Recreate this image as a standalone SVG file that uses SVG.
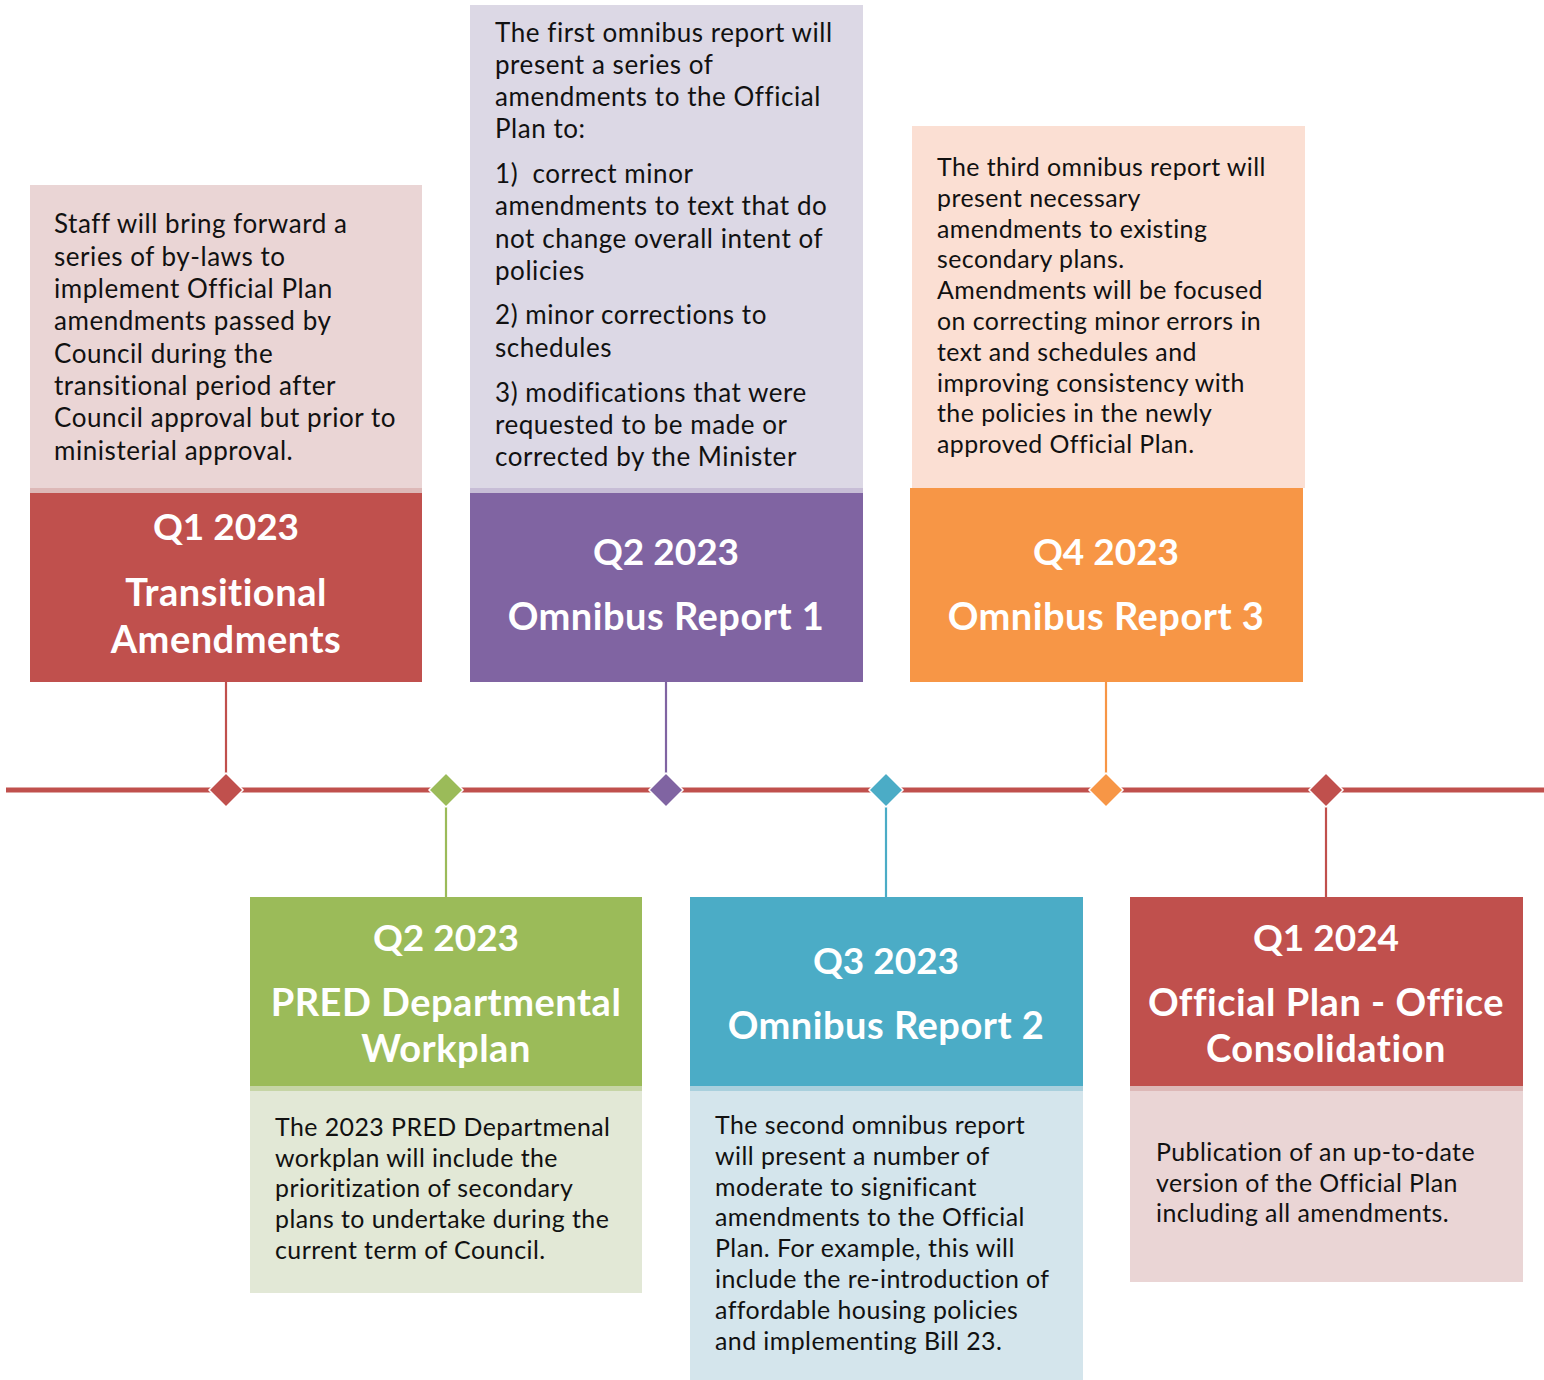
<svg xmlns="http://www.w3.org/2000/svg" width="1544" height="1380" viewBox="0 0 1544 1380">
<style>
.title{font-family:Lato,"Open Sans","Liberation Sans",sans-serif;font-weight:700;font-size:38px;letter-spacing:0.5px;fill:#FFFFFF;text-anchor:middle}
.q{font-size:37px;letter-spacing:0px}
.body{font-family:Lato,"Open Sans","Liberation Sans",sans-serif;font-weight:400;font-size:26px;letter-spacing:0.55px;fill:#111111}
.sm{font-size:24.9px;letter-spacing:0.45px}
.conn{stroke-width:2.2;fill:none}
.dia{stroke:#FFFFFF;stroke-width:1.5}
</style>
<rect x="0" y="0" width="1544" height="1380" fill="#FFFFFF"/>
<g id="connectors">
<line x1="6" y1="790" x2="1544" y2="790" stroke="#C0504D" stroke-width="5"/>
<line class="conn" x1="226" y1="682" x2="226" y2="774" stroke="#C0504D"/>
<line class="conn" x1="446" y1="806" x2="446" y2="897" stroke="#9BBB59"/>
<line class="conn" x1="666" y1="682" x2="666" y2="774" stroke="#8064A2"/>
<line class="conn" x1="886" y1="806" x2="886" y2="897" stroke="#4BACC6"/>
<line class="conn" x1="1106" y1="682" x2="1106" y2="774" stroke="#F79646"/>
<line class="conn" x1="1326" y1="806" x2="1326" y2="897" stroke="#C0504D"/>
<polygon class="dia" points="226,773 243,790 226,807 209,790" fill="#C0504D"/>
<polygon class="dia" points="446,773 463,790 446,807 429,790" fill="#9BBB59"/>
<polygon class="dia" points="666,773 683,790 666,807 649,790" fill="#8064A2"/>
<polygon class="dia" points="886,773 903,790 886,807 869,790" fill="#4BACC6"/>
<polygon class="dia" points="1106,773 1123,790 1106,807 1089,790" fill="#F79646"/>
<polygon class="dia" points="1326,773 1343,790 1326,807 1309,790" fill="#C0504D"/>
</g>
<g id="node-q1-2023">
<rect x="30" y="185" width="392" height="304" fill="#EAD5D5"/>
<rect x="30" y="488" width="392" height="5" fill="#DDB8B7"/>
<rect x="30" y="493" width="392" height="189" fill="#C0504D"/>
<text class="title q" x="226" y="540">Q1 2023</text>
<text class="title" x="226" y="606">Transitional</text>
<text class="title" x="226" y="653">Amendments</text>
<text class="body" x="54" y="233">Staff will bring forward a</text>
<text class="body" x="54" y="265.5">series of by-laws to</text>
<text class="body" x="54" y="298">implement Official Plan</text>
<text class="body" x="54" y="330">amendments passed by</text>
<text class="body" x="54" y="362.5">Council during the</text>
<text class="body" x="54" y="395">transitional period after</text>
<text class="body" x="54" y="427">Council approval but prior to</text>
<text class="body" x="54" y="459.5">ministerial approval.</text>
</g>
<g id="node-q2-2023-omnibus1">
<rect x="470" y="5" width="393" height="484" fill="#DCD8E5"/>
<rect x="470" y="488" width="393" height="5" fill="#C7BDD6"/>
<rect x="470" y="493" width="393" height="189" fill="#8064A2"/>
<text class="title q" x="666" y="565">Q2 2023</text>
<text class="title" x="666" y="630">Omnibus Report 1</text>
<text class="body" x="495" y="42">The first omnibus report will</text>
<text class="body" x="495" y="74">present a series of</text>
<text class="body" x="495" y="106">amendments to the Official</text>
<text class="body" x="495" y="138">Plan to:</text>
<text class="body" x="495" y="183" xml:space="preserve">1)  correct minor</text>
<text class="body" x="495" y="215">amendments to text that do</text>
<text class="body" x="495" y="248">not change overall intent of</text>
<text class="body" x="495" y="280">policies</text>
<text class="body" x="495" y="324">2) minor corrections to</text>
<text class="body" x="495" y="357">schedules</text>
<text class="body" x="495" y="402">3) modifications that were</text>
<text class="body" x="495" y="434">requested to be made or</text>
<text class="body" x="495" y="466">corrected by the Minister</text>
</g>
<g id="node-q4-2023-omnibus3">
<rect x="912" y="126" width="393" height="362" fill="#FBDFD3"/>
<rect x="910" y="488" width="393" height="194" fill="#F79646"/>
<text class="title q" x="1106" y="565">Q4 2023</text>
<text class="title" x="1106" y="630">Omnibus Report 3</text>
<text class="body sm" x="937" y="176">The third omnibus report will</text>
<text class="body sm" x="937" y="207">present necessary</text>
<text class="body sm" x="937" y="238">amendments to existing</text>
<text class="body sm" x="937" y="268">secondary plans.</text>
<text class="body sm" x="937" y="299">Amendments will be focused</text>
<text class="body sm" x="937" y="330">on correcting minor errors in</text>
<text class="body sm" x="937" y="361">text and schedules and</text>
<text class="body sm" x="937" y="392">improving consistency with</text>
<text class="body sm" x="937" y="422">the policies in the newly</text>
<text class="body sm" x="937" y="453">approved Official Plan.</text>
</g>
<g id="node-q2-2023-pred">
<rect x="250" y="897" width="392" height="189" fill="#9BBB59"/>
<rect x="250" y="1086" width="392" height="5" fill="#C6D5A6"/>
<rect x="250" y="1091" width="392" height="202" fill="#E2E8D6"/>
<text class="title q" x="446" y="951">Q2 2023</text>
<text class="title" x="446" y="1016">PRED Departmental</text>
<text class="title" x="446" y="1062">Workplan</text>
<text class="body sm" x="275" y="1136">The 2023 PRED Departmenal</text>
<text class="body sm" x="275" y="1166.5">workplan will include the</text>
<text class="body sm" x="275" y="1197">prioritization of secondary</text>
<text class="body sm" x="275" y="1228">plans to undertake during the</text>
<text class="body sm" x="275" y="1259">current term of Council.</text>
</g>
<g id="node-q3-2023-omnibus2">
<rect x="690" y="897" width="393" height="189" fill="#4BACC6"/>
<rect x="690" y="1086" width="393" height="5" fill="#A9D0DD"/>
<rect x="690" y="1091" width="393" height="289" fill="#D4E5EC"/>
<text class="title q" x="886" y="974">Q3 2023</text>
<text class="title" x="886" y="1039">Omnibus Report 2</text>
<text class="body sm" x="715" y="1134">The second omnibus report</text>
<text class="body sm" x="715" y="1165">will present a number of</text>
<text class="body sm" x="715" y="1196">moderate to significant</text>
<text class="body sm" x="715" y="1226">amendments to the Official</text>
<text class="body sm" x="715" y="1257">Plan. For example, this will</text>
<text class="body sm" x="715" y="1288">include the re-introduction of</text>
<text class="body sm" x="715" y="1319">affordable housing policies</text>
<text class="body sm" x="715" y="1350">and implementing Bill 23.</text>
</g>
<g id="node-q1-2024">
<rect x="1130" y="897" width="393" height="189" fill="#C0504D"/>
<rect x="1130" y="1086" width="393" height="5" fill="#DDB8B7"/>
<rect x="1130" y="1091" width="393" height="191" fill="#EAD5D5"/>
<text class="title q" x="1326" y="951">Q1 2024</text>
<text class="title" x="1326" y="1016">Official Plan - Office</text>
<text class="title" x="1326" y="1062">Consolidation</text>
<text class="body sm" x="1156" y="1161">Publication of an up-to-date</text>
<text class="body sm" x="1156" y="1192">version of the Official Plan</text>
<text class="body sm" x="1156" y="1222">including all amendments.</text>
</g>
</svg>
